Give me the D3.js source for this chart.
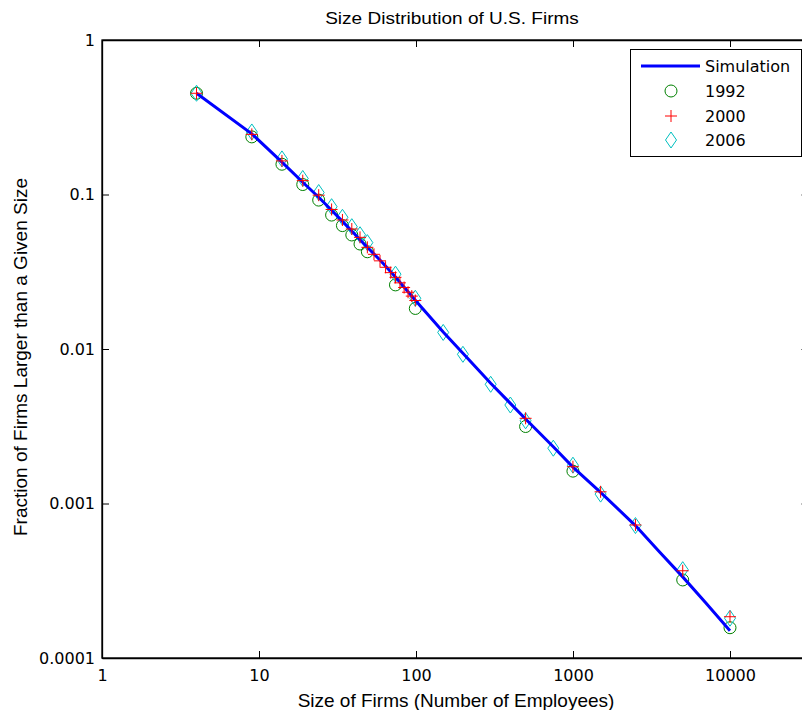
<!DOCTYPE html>
<html>
<head>
<meta charset="utf-8">
<script src="https://cdn.jsdelivr.net/npm/d3@7"></script>
<style>
  html, body { margin: 0; padding: 0; background: #fff; }
  svg { display: block; }
</style>
</head>
<body>
<svg id="chart" width="802" height="710"></svg>
<script>
// ---- Data ----
const xTicks = [1, 10, 100, 1000, 10000];
const xTickLabels = ["1", "10", "100", "1000", "10000"];
const yTicks = [0.0001, 0.001, 0.01, 0.1, 1];
const yTickLabels = ["0.0001", "0.001", "0.01", "0.1", "1"];

const simSizes = [4, 9, 14, 19, 24, 29, 34, 39, 44, 49, 60, 74, 99, 149, 199, 299, 399, 499, 749, 999, 1499, 2499, 3500, 4999, 7000, 9999];
const simFrac  = [0.452, 0.247, 0.162, 0.120, 0.096, 0.079, 0.067, 0.058, 0.051, 0.0455, 0.037, 0.0292, 0.0207, 0.0129, 0.0094, 0.0060, 0.00445, 0.00352, 0.00233, 0.00172, 0.00118, 0.00072, 0.000495, 0.000335, 0.000228, 0.000150];

const sizes1992 = [4, 9, 14, 19, 24, 29, 34, 39, 44, 49, 74, 99, 499, 999, 4999, 9999];
const frac1992  = [0.452, 0.236, 0.157, 0.116, 0.092, 0.0736, 0.0629, 0.0547, 0.0478, 0.0426, 0.0260, 0.0183, 0.00315, 0.00162, 0.000320, 0.000157];

const sizes2000 = [4, 9, 14, 19, 24, 29, 34, 39, 44, 49, 54, 59, 64, 69, 74, 79, 84, 89, 94, 99, 499, 999, 1499, 2499, 4999, 9999];
const frac2000  = [0.452, 0.245, 0.165, 0.123, 0.099, 0.080, 0.0684, 0.0598, 0.0528, 0.0455, 0.0410, 0.0372, 0.0338, 0.0312, 0.0291, 0.0268, 0.0250, 0.0233, 0.0220, 0.0206, 0.00356, 0.00173, 0.00119, 0.000726, 0.000367, 0.000185];

const sizes2006 = [4, 9, 14, 19, 24, 29, 34, 39, 44, 49, 74, 99, 149, 199, 299, 399, 499, 749, 999, 1499, 2499, 4999, 9999];
const frac2006  = [0.452, 0.254, 0.170, 0.127, 0.103, 0.0834, 0.0712, 0.0619, 0.0549, 0.0488, 0.0305, 0.0213, 0.0128, 0.00924, 0.00591, 0.00434, 0.00343, 0.00228, 0.00177, 0.00115, 0.00072, 0.000373, 0.000181];

const legendLabels = ["Simulation", "1992", "2000", "2006"];

// ---- Layout ----
const svg = d3.select("#chart");
const mLeft = 102, mTop = 40, mRight = 808.5, mBottom = 658;

const x = d3.scaleLog().domain([1, Math.pow(10, 4.5)]).range([mLeft, mRight]);
const y = d3.scaleLog().domain([0.0001, 1]).range([mBottom, mTop]);

const tickFont = "'DejaVu Sans', sans-serif";
const labelFont = "'Liberation Sans', Arial, sans-serif";

// frame
svg.append("rect")
  .attr("x", mLeft).attr("y", mTop)
  .attr("width", mRight - mLeft).attr("height", mBottom - mTop)
  .attr("fill", "none").attr("stroke", "#000").attr("stroke-width", 1.3);

// axes
const xAxis = d3.axisBottom(x).tickValues(xTicks)
  .tickFormat((d, i) => xTickLabels[i]).tickSizeInner(-7).tickSizeOuter(0).tickPadding(12);
const gx = svg.append("g").attr("transform", `translate(0,${mBottom})`).call(xAxis);

const xAxisTop = d3.axisTop(x).tickValues(xTicks).tickFormat("").tickSizeInner(-7).tickSizeOuter(0);
const gxt = svg.append("g").attr("transform", `translate(0,${mTop})`).call(xAxisTop);

const yAxis = d3.axisLeft(y).tickValues(yTicks)
  .tickFormat((d, i) => yTickLabels[i]).tickSizeInner(-7).tickSizeOuter(0).tickPadding(7);
const gy = svg.append("g").attr("transform", `translate(${mLeft},0)`).call(yAxis);

const yAxisRight = d3.axisRight(y).tickValues(yTicks).tickFormat("").tickSizeInner(-7).tickSizeOuter(0);
const gyr = svg.append("g").attr("transform", `translate(${mRight},0)`).call(yAxisRight);

[gx, gxt, gy, gyr].forEach(g => {
  g.select(".domain").attr("stroke", "#000").attr("stroke-width", 1.3);
  g.selectAll(".tick line").attr("stroke", "#000").attr("stroke-width", 1);
  g.selectAll("text").attr("font-family", tickFont).attr("font-size", 16).attr("fill", "#000");
});

// ---- Marks ----
const plot = svg.append("g");

// 1992 circles
plot.selectAll("circle.y1992").data(sizes1992.map((s, i) => [s, frac1992[i]]))
  .enter().append("circle")
  .attr("cx", d => x(d[0])).attr("cy", d => y(d[1])).attr("r", 6)
  .attr("fill", "none").attr("stroke", "#008000").attr("stroke-width", 1);

// 2006 diamonds
const diamond = (cx, cy) => `M${cx},${cy - 8}L${cx + 5.5},${cy}L${cx},${cy + 8}L${cx - 5.5},${cy}Z`;
plot.selectAll("path.y2006").data(sizes2006.map((s, i) => [s, frac2006[i]]))
  .enter().append("path")
  .attr("d", d => diamond(x(d[0]), y(d[1])))
  .attr("fill", "none").attr("stroke", "#00bfbf").attr("stroke-width", 1);

// simulation line
const line = d3.line().x(d => x(d[0])).y(d => y(d[1]));
plot.append("path")
  .datum(simSizes.map((s, i) => [s, simFrac[i]]))
  .attr("d", line)
  .attr("fill", "none").attr("stroke", "#0000ff").attr("stroke-width", 3);

// 2000 plus markers
const plus = (cx, cy) => `M${cx - 6},${cy}H${cx + 6}M${cx},${cy - 6}V${cy + 6}`;
plot.selectAll("path.y2000").data(sizes2000.map((s, i) => [s, frac2000[i]]))
  .enter().append("path")
  .attr("d", d => plus(x(d[0]), y(d[1])))
  .attr("fill", "none").attr("stroke", "#ff0000").attr("stroke-width", 1);

// ---- Legend ----
const lg = svg.append("g");
lg.append("rect").attr("x", 630.5).attr("y", 49.5).attr("width", 171).attr("height", 107)
  .attr("fill", "#fff").attr("stroke", "#000").attr("stroke-width", 1);
const rowY = [66, 91, 116, 140];
lg.append("line").attr("x1", 641).attr("x2", 700).attr("y1", rowY[0]).attr("y2", rowY[0])
  .attr("stroke", "#0000ff").attr("stroke-width", 3);
lg.append("circle").attr("cx", 671).attr("cy", rowY[1]).attr("r", 6)
  .attr("fill", "none").attr("stroke", "#008000");
lg.append("path").attr("d", plus(671, rowY[2])).attr("stroke", "#ff0000").attr("fill", "none");
lg.append("path").attr("d", diamond(671, rowY[3])).attr("stroke", "#00bfbf").attr("fill", "none");
lg.selectAll("text.leg").data(legendLabels).enter().append("text")
  .attr("x", 705).attr("y", (d, i) => rowY[i] + 6)
  .attr("font-family", tickFont).attr("font-size", 16).attr("fill", "#000")
  .text(d => d);

// ---- Titles ----
svg.append("text").attr("transform", "translate(452,24) scale(1.12,1)").attr("text-anchor", "middle")
  .attr("font-family", labelFont).attr("font-size", 17).attr("fill", "#000")
  .text("Size Distribution of U.S. Firms");

svg.append("text").attr("x", 456).attr("y", 707).attr("text-anchor", "middle")
  .attr("font-family", labelFont).attr("font-size", 19).attr("fill", "#000")
  .text("Size of Firms (Number of Employees)");

svg.append("text").attr("transform", "translate(27,357) rotate(-90)").attr("text-anchor", "middle")
  .attr("font-family", labelFont).attr("font-size", 19).attr("fill", "#000")
  .text("Fraction of Firms Larger than a Given Size");
</script>
</body>
</html>
